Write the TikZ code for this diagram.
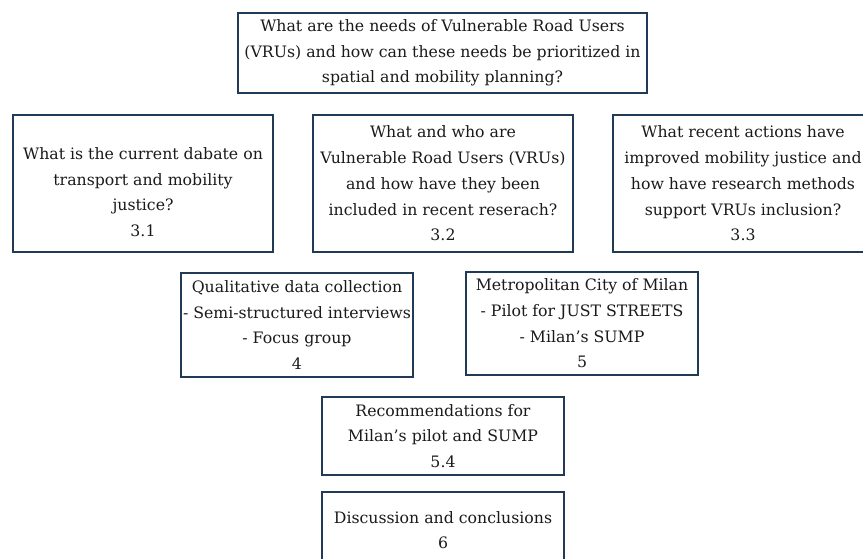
\documentclass[tikz,border=0pt]{standalone}
\usepackage{fontspec}
\setmainfont{DejaVu Serif}
\definecolor{boxedge}{HTML}{213A55}
\definecolor{ink}{HTML}{1A1A1A}
\tikzset{
  qbox/.style={draw=boxedge, line width=1.5pt, fill=white, rectangle,
    align=center, inner sep=0pt, text=ink, font=\fontsize{11.8}{19.3}\selectfont},
}
\begin{document}
\begin{tikzpicture}[x=0.75pt, y=-0.75pt]
  \useasboundingbox (0,0) rectangle (863,559);
  \clip (0,0) rectangle (863,559);

  % main research question
  \node[qbox, minimum width=409*0.75pt, minimum height=80*0.75pt] (main) at (442.5,53)
    {What are the needs of Vulnerable Road Users\\(VRUs) and how can these needs be prioritized in\\spatial and mobility planning?};

  % sub-questions, chapter 3
  \node[qbox, minimum width=260*0.75pt, minimum height=137*0.75pt] (q31) at (143,183.5)
    {\raisebox{-7pt}[\height][\depth]{\begin{tabular}{@{}c@{}}What is the current dabate on\\transport and mobility\\justice?\\3.1\end{tabular}}};
  \node[qbox, minimum width=260*0.75pt, minimum height=137*0.75pt] (q32) at (443,183.5)
    {What and who are\\Vulnerable Road Users (VRUs)\\and how have they been\\included in recent reserach?\\3.2};
  \node[qbox, minimum width=260*0.75pt, minimum height=137*0.75pt] (q33) at (743,183.5)
    {What recent actions have\\improved mobility justice and\\how have research methods\\support VRUs inclusion?\\3.3};

  % methods and case, chapters 4 and 5
  \node[qbox, minimum width=232*0.75pt, minimum height=104*0.75pt] (data) at (297,325)
    {Qualitative data collection\\- Semi-structured interviews\\- Focus group\\4};
  \node[qbox, minimum width=232*0.75pt, minimum height=103*0.75pt] (milan) at (582,323.5)
    {Metropolitan City of Milan\\- Pilot for JUST STREETS\\- Milan’s SUMP\\5};

  % outcomes
  \node[qbox, minimum width=242*0.75pt, minimum height=78*0.75pt] (recs) at (443,436)
    {Recommendations for\\Milan’s pilot and SUMP\\5.4};
  \node[qbox, minimum width=242*0.75pt, minimum height=76*0.75pt] (concl) at (443,530)
    {Discussion and conclusions\\6};
\end{tikzpicture}
\end{document}
